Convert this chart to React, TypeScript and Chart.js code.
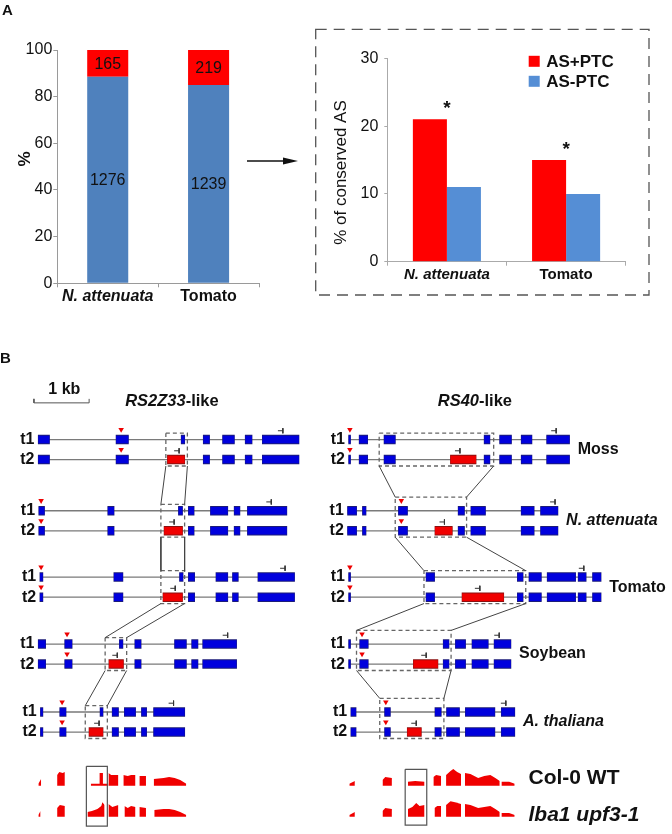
import React, { useEffect, useRef } from 'react';
import { Chart, registerables } from 'chart.js';

Chart.register(...registerables);

const FONT = "'Liberation Sans', Arial, Helvetica, sans-serif";
Chart.defaults.font.family = FONT;

// ---------------- Panel A data ----------------
const speciesA = ['N. attenuata', 'Tomato'];
const asMinusPercent = [88.5, 85.0];
const asPlusPercent = [11.5, 15.0];
const asMinusCount = [1276, 1239];
const asPlusCount = [165, 219];
const conservedPlus = [21, 15];
const conservedMinus = [11, 10];
const conservedStars = ['*', '*'];
const legendLabels = ['AS+PTC', 'AS-PTC'];

// ---------------- Panel B data (kb) ----------------
const speciesB = ['Moss', 'N. attenuata', 'Tomato', 'Soybean', 'A. thaliana'];
const speciesItalic = [false, true, false, false, true];
const rowT1 = [0, 3.55, 6.86, 10.2, 13.59];

// RS2Z33-like (t1 exons, PTC exon of t2, PTC triangle, stop codons, conserved box)
const rs2z33Exons = [
  [[0.08, 0.28], [1.49, 1.71], [2.67, 2.73], [3.07, 3.18], [3.42, 3.63], [3.83, 3.95], [4.14, 4.80]],
  [[0.09, 0.19], [1.34, 1.45], [2.62, 2.69], [2.80, 2.90], [3.20, 3.51], [3.63, 3.73], [3.87, 4.58]],
  [[0.11, 0.16], [1.45, 1.61], [2.64, 2.70], [2.80, 2.91], [3.30, 3.51], [3.60, 3.70], [4.06, 4.72]],
  [[0.08, 0.21], [0.56, 0.69], [1.55, 1.61], [1.83, 1.94], [2.55, 2.76], [2.86, 2.97], [3.06, 3.67]],
  [[0.12, 0.16], [0.47, 0.58], [1.20, 1.25], [1.42, 1.53], [1.64, 1.84], [1.95, 2.04], [2.17, 2.73]],
];
const rs2z33Ptc = [[2.42, 2.73], [2.36, 2.69], [2.34, 2.69], [1.36, 1.62], [1.00, 1.25]];
const rs2z33Tri = [1.58, 0.13, 0.13, 0.60, 0.51];
const rs2z33StopT1 = [4.51, 4.30, 4.55, 3.51, 2.53];
const rs2z33StopT2 = [2.63, 2.54, 2.56, 1.51, 1.18];
const rs2z33Box = [[2.39, 2.78], [2.30, 2.73], [2.30, 2.73], [1.29, 1.68], [0.93, 1.33]];

// RS40-like
const rs40Exons = [
  [[0.00, 0.03], [0.19, 0.34], [0.64, 0.84], [2.45, 2.55], [2.73, 2.94], [3.12, 3.31], [3.58, 3.99]],
  [[-0.02, 0.14], [0.25, 0.31], [0.90, 1.06], [1.98, 2.09], [2.21, 2.47], [3.12, 3.35], [3.47, 3.78]],
  [[0.00, 0.03], [1.40, 1.55], [3.05, 3.15], [3.26, 3.48], [3.59, 4.10], [4.15, 4.29], [4.41, 4.56]],
  [[0.00, 0.03], [0.20, 0.35], [1.71, 1.81], [1.93, 2.11], [2.23, 2.52], [2.63, 2.93]],
  [[0.04, 0.13], [0.65, 0.75], [1.56, 1.67], [1.77, 2.00], [2.11, 2.64], [2.76, 3.00]],
];
const rs40Ptc = [[1.84, 2.30], [1.56, 1.87], [2.05, 2.80], [1.17, 1.61], [1.06, 1.31]];
const rs40Tri = [0.02, 0.95, 0.02, 0.24, 0.67];
const rs40StopT1 = [3.75, 3.73, 4.25, 2.72, 2.84];
const rs40StopT2 = [2.01, 1.73, 2.37, 1.40, 1.22];
const rs40Box = [[0.55, 2.62], [0.84, 2.13], [1.36, 3.20], [0.14, 1.85], [0.56, 1.72]];

// RNA-seq coverage (A. thaliana), blocks of [kb, depth]
const covLeftWT = [
  [[0.08, 2], [0.13, 7]],
  [[0.42, 11], [0.46, 14], [0.52, 13], [0.56, 14]],
  [[1.03, 2], [1.19, 2], [1.19, 13], [1.25, 13], [1.25, 2], [1.35, 2]],
  [[1.35, 13], [1.40, 11], [1.53, 11]],
  [[1.62, 11], [1.70, 10], [1.76, 11], [1.84, 11]],
  [[1.91, 10], [2.03, 10]],
  [[2.17, 7], [2.35, 8], [2.45, 9], [2.55, 8], [2.65, 6], [2.76, 2]],
];
const covLeftMut = [
  [[0.08, 2], [0.12, 6]],
  [[0.42, 9], [0.47, 12], [0.56, 11]],
  [[0.97, 5], [1.05, 6], [1.15, 8], [1.22, 11], [1.24, 15], [1.28, 12]],
  [[1.35, 13], [1.42, 10], [1.53, 12]],
  [[1.64, 11], [1.70, 9], [1.76, 11], [1.84, 10]],
  [[1.91, 10], [2.03, 9]],
  [[2.18, 7], [2.35, 8], [2.45, 8], [2.55, 7], [2.65, 5], [2.76, 2]],
];
const covRightWT = [
  [[0.01, 2], [0.11, 5]],
  [[0.61, 6], [0.66, 9], [0.78, 8]],
  [[1.07, 4], [1.20, 5], [1.37, 4]],
  [[1.53, 9], [1.58, 11], [1.67, 10]],
  [[1.76, 11], [1.84, 15], [1.89, 17], [1.96, 14], [2.03, 12]],
  [[2.10, 13], [2.20, 12], [2.34, 8], [2.45, 10], [2.56, 11], [2.65, 8], [2.73, 5]],
  [[2.76, 4], [2.90, 4], [3.00, 2]],
];
const covRightMut = [
  [[0.01, 2], [0.11, 5]],
  [[0.61, 6], [0.66, 9], [0.78, 8]],
  [[1.07, 8], [1.15, 10], [1.22, 14], [1.28, 11], [1.37, 12]],
  [[1.55, 9], [1.60, 11], [1.67, 11]],
  [[1.76, 12], [1.84, 16], [1.92, 15], [2.03, 13]],
  [[2.10, 13], [2.20, 12], [2.34, 9], [2.45, 10], [2.56, 11], [2.65, 8], [2.73, 5]],
  [[2.76, 4], [2.90, 4], [3.00, 2]],
];
const covLeftFrame = [0.95, 16.3, 1.33, 19.28];
const covRightFrame = [1.02, 16.45, 1.41, 19.23];
const trackLabels = [['Col-0 WT', false], ['lba1 upf3-1', true]];
const trackY = [17.27, 18.82];

// layout constants
const ROW_PX = 20.4;
const COV_UNIT = 1 / ROW_PX;
const Y_MIN = -3.27;
const Y_MAX = Y_MIN + 464 / ROW_PX;
const KB_PX = 56.6;

const BLUE_A = '#4F81BD';
const BLUE_B = '#558ED5';
const RED = '#FF0000';

// ---------------- helpers ----------------
function poly(list: number[][]) {
  const out: any[] = [];
  list.forEach((p, i) => {
    if (i > 0) out.push({ x: p[0], y: null });
    for (let k = 0; k < p.length; k += 2) out.push({ x: p[k], y: p[k + 1] });
  });
  return out;
}

function lineDs(data: any[], color: string, width: number, order: number, extra: any = {}) {
  return {
    type: 'line',
    data,
    borderColor: color,
    borderWidth: width,
    pointRadius: 0,
    tension: 0,
    fill: false,
    spanGaps: false,
    borderCapStyle: 'butt',
    order,
    ...extra,
  };
}

function drawRich(ctx: any, parts: any[], x: number, y: number, align: string, size: number) {
  const fonts = parts.map((p: any) => `${p[1] ? 'italic ' : ''}bold ${size}px ${FONT}`);
  const widths = parts.map((p: any, i: number) => {
    ctx.font = fonts[i];
    return ctx.measureText(p[0]).width;
  });
  const total = widths.reduce((a: number, b: number) => a + b, 0);
  let cx = align === 'left' ? x : align === 'right' ? x - total : x - total / 2;
  ctx.textAlign = 'left';
  ctx.textBaseline = 'middle';
  parts.forEach((p: any, i: number) => {
    ctx.font = fonts[i];
    ctx.fillText(p[0], cx, y);
    cx += widths[i];
  });
}

const yTitlePlugin = {
  id: 'yTitleCustom',
  afterDraw(chart: any) {
    const o = chart.config.options.customTitle;
    if (!o) return;
    const ctx = chart.ctx;
    ctx.save();
    ctx.translate(o.x, o.y);
    ctx.rotate(-Math.PI / 2);
    ctx.font = `${o.weight} ${o.size}px ${FONT}`;
    ctx.fillStyle = '#111';
    ctx.textAlign = 'center';
    ctx.textBaseline = 'middle';
    ctx.fillText(o.text, 0, 0);
    ctx.restore();
  },
};

// ---------------- Chart 1: stacked ----------------
function makeStacked(canvas: HTMLCanvasElement) {
  const counts = [asMinusCount, asPlusCount];
  const labelPlugin = {
    id: 'stackLabels',
    afterDatasetsDraw(chart: any) {
      const ctx = chart.ctx;
      ctx.save();
      ctx.font = `16px ${FONT}`;
      ctx.fillStyle = '#111';
      ctx.textAlign = 'center';
      ctx.textBaseline = 'middle';
      chart.data.datasets.forEach((_d: any, di: number) => {
        chart.getDatasetMeta(di).data.forEach((el: any, i: number) => {
          const p = el.getProps(['x', 'y', 'base'], true);
          ctx.fillText(String(counts[di][i]), p.x, (p.y + p.base) / 2 + 1);
        });
      });
      ctx.restore();
    },
  };
  return new Chart(canvas, {
    type: 'bar',
    data: {
      labels: speciesA,
      datasets: [
        { label: 'AS-PTC', data: asMinusPercent, backgroundColor: BLUE_A, borderWidth: 0 },
        { label: 'AS+PTC', data: asPlusPercent, backgroundColor: RED, borderWidth: 0 },
      ],
    },
    options: {
      responsive: false,
      animation: false,
      events: [],
      layout: { padding: { top: 50, right: 6, left: 0, bottom: 0 } },
      categoryPercentage: 1,
      barPercentage: 0.407,
      customTitle: { text: '%', x: 25, y: 159, size: 17, weight: 'bold' },
      plugins: { legend: { display: false }, tooltip: { enabled: false } },
      scales: {
        x: {
          stacked: true,
          grid: { drawOnChartArea: false, drawTicks: true, tickLength: 4, color: '#9a9a9a', offset: true },
          border: { display: true, color: '#9a9a9a' },
          ticks: {
            color: '#111',
            padding: 0,
            font: (c: any) => ({ size: 16, weight: 'bold', style: c.index === 0 ? 'italic' : 'normal', family: FONT }),
          },
          afterFit: (s: any) => { s.height = 26.7; },
        },
        y: {
          stacked: true,
          min: 0,
          max: 100,
          grid: { drawOnChartArea: false, drawTicks: true, tickLength: 4, color: '#9a9a9a' },
          border: { display: true, color: '#9a9a9a' },
          ticks: { stepSize: 20, color: '#111', padding: 1, font: { size: 16, family: FONT } },
          afterFit: (s: any) => { s.width = 57.3; },
        },
      },
    } as any,
    plugins: [labelPlugin, yTitlePlugin],
  } as any);
}

// ---------------- Chart 2: grouped ----------------
function makeConserved(canvas: HTMLCanvasElement) {
  const extras = {
    id: 'starsLegend',
    afterDatasetsDraw(chart: any) {
      const ctx = chart.ctx;
      const xs = chart.scales.x;
      ctx.save();
      ctx.fillStyle = '#111';
      ctx.font = `bold 19px ${FONT}`;
      ctx.textAlign = 'center';
      ctx.textBaseline = 'alphabetic';
      chart.getDatasetMeta(0).data.forEach((el: any, i: number) => {
        const p = el.getProps(['y'], true);
        ctx.fillText(conservedStars[i], xs.getPixelForValue(i), p.y - 5);
      });
      // legend
      const ca = chart.chartArea;
      const x0 = ca.right - 97;
      chart.data.datasets.forEach((ds: any, i: number) => {
        const yc = ca.top + 3 + i * 20;
        ctx.fillStyle = ds.backgroundColor;
        ctx.fillRect(x0, yc - 5.5, 11, 11);
        ctx.fillStyle = '#111';
        ctx.font = `bold 17px ${FONT}`;
        ctx.textAlign = 'left';
        ctx.textBaseline = 'middle';
        ctx.fillText(ds.label, x0 + 17.5, yc + 1);
      });
      ctx.restore();
    },
  };
  return new Chart(canvas, {
    type: 'bar',
    data: {
      labels: speciesA,
      datasets: [
        { label: legendLabels[0], data: conservedPlus, backgroundColor: RED, borderWidth: 0 },
        { label: legendLabels[1], data: conservedMinus, backgroundColor: BLUE_B, borderWidth: 0 },
      ],
    },
    options: {
      responsive: false,
      animation: false,
      events: [],
      layout: { padding: { top: 28.3, right: 16.3, left: 0, bottom: 0 } },
      categoryPercentage: 0.571,
      barPercentage: 1,
      customTitle: { text: '% of conserved AS', x: 21.7, y: 142.5, size: 17, weight: 'normal' },
      plugins: { legend: { display: false }, tooltip: { enabled: false } },
      scales: {
        x: {
          grid: { drawOnChartArea: false, drawTicks: true, tickLength: 4, color: '#aaaaaa', offset: true },
          border: { display: true, color: '#aaaaaa' },
          ticks: {
            color: '#111',
            padding: 0,
            font: (c: any) => ({ size: 15, weight: 'bold', style: c.index === 0 ? 'italic' : 'normal', family: FONT }),
          },
          afterFit: (s: any) => { s.height = 30.3; },
        },
        y: {
          min: 0,
          max: 30,
          grid: { drawOnChartArea: false, drawTicks: true, tickLength: 3, color: '#aaaaaa' },
          border: { display: true, color: '#aaaaaa' },
          ticks: { stepSize: 10, color: '#111', padding: 6, font: { size: 16, family: FONT } },
          afterFit: (s: any) => { s.width = 67.3; },
        },
      },
    } as any,
    plugins: [extras, yTitlePlugin],
  } as any);
}

// ---------------- Panel B gene charts ----------------
function makeGene(canvas: HTMLCanvasElement, col: any) {
  const introns: number[][] = [];
  const exOut: number[][] = [];
  const exBlue: number[][] = [];
  const redOut: number[][] = [];
  const exRed: number[][] = [];
  const tris: any[] = [];
  const stops: number[][] = [];
  const boxes: number[][] = [];
  const links: number[][] = [];
  const boxTop: number[] = [];
  const boxBot: number[] = [];
  const texts: any[] = [];
  const pad = 0.008;

  col.exons.forEach((ex: number[][], s: number) => {
    const y1 = rowT1[s];
    const y2 = rowT1[s] + 1;
    const red = col.ptc[s];
    const t2 = ex.filter(([a, b]) => b <= red[0] || a >= red[1]);
    const st = Math.min(...ex.map((e) => e[0]));
    const en = Math.max(...ex.map((e) => e[1]));
    introns.push([st, y1, en, y1], [Math.min(st, red[0]), y2, Math.max(en, red[1]), y2]);
    ex.forEach(([a, b]) => { exBlue.push([a, y1, b, y1]); exOut.push([a - pad, y1, b + pad, y1]); });
    t2.forEach(([a, b]) => { exBlue.push([a, y2, b, y2]); exOut.push([a - pad, y2, b + pad, y2]); });
    exRed.push([red[0], y2, red[1], y2]);
    redOut.push([red[0] - pad, y2, red[1] + pad, y2]);
    tris.push({ x: col.tri[s], y: y1 - 0.5 }, { x: col.tri[s], y: y2 - 0.5 });
    [[col.stopT1[s], y1], [col.stopT2[s], y2]].forEach(([sx, ry]) => {
      stops.push([sx - 0.09, ry - 0.44, sx, ry - 0.44], [sx, ry - 0.57, sx, ry - 0.31]);
    });
    const [bx1, bx2] = col.box[s];
    const inside = col.tri[s] >= bx1 && col.tri[s] <= bx2;
    const top = y1 - (inside ? 0.68 : 0.32);
    const bot = y2 + 0.32;
    boxTop.push(top);
    boxBot.push(bot);
    boxes.push([bx1, top, bx2, top, bx2, bot, bx1, bot, bx1, top]);
    texts.push({ parts: [['t1', false]], x: st - 0.07, y: y1, align: 'right', size: 16 });
    texts.push({ parts: [['t2', false]], x: Math.min(st, red[0]) - 0.07, y: y2, align: 'right', size: 16 });
    if (col.species) {
      texts.push({ parts: [[speciesB[s], speciesItalic[s]]], x: Math.max(en, red[1]) + 0.15, y: (y1 + y2) / 2, align: 'left', size: 16 });
    }
  });
  for (let s = 0; s < col.box.length - 1; s++) {
    links.push([col.box[s][0], boxBot[s], col.box[s + 1][0], boxTop[s + 1]]);
    links.push([col.box[s][1], boxBot[s], col.box[s + 1][1], boxTop[s + 1]]);
  }
  texts.push({ parts: col.title, x: col.titleX, y: -1.9, align: 'center', size: 16.5 });
  if (col.species) {
    trackLabels.forEach((t: any, i: number) => {
      texts.push({ parts: [[t[0], t[1]]], x: 3.25, y: trackY[i] - 0.4 + (i === 1 ? 0.3 : 0), align: 'left', size: 21 });
    });
  }

  const datasets: any[] = [];
  datasets.push(lineDs(poly(introns), '#7a7a7a', 1.3, 30));
  datasets.push(lineDs(poly(exOut), '#1c1c78', 9.5, 29));
  datasets.push(lineDs(poly(exBlue), '#0000DD', 7.5, 28));
  datasets.push(lineDs(poly(redOut), '#8a1010', 9.5, 27));
  datasets.push(lineDs(poly(exRed), '#F00000', 7.5, 26));
  datasets.push(lineDs(poly(stops), '#333', 1, 25));
  datasets.push(lineDs(poly(boxes), '#666', 1.3, 24, { borderDash: [4, 3] }));
  datasets.push(lineDs(poly(links), '#444', 1, 23));
  datasets.push({
    type: 'line', data: tris, showLine: false, pointStyle: 'triangle', rotation: 180,
    pointRadius: 3.2, pointBackgroundColor: '#EE0000', pointBorderWidth: 0, order: 22,
  });
  if (col.scaleBar) {
    datasets.push(lineDs(poly([[0, -2.03, 0, -1.83, 1, -1.83, 1, -2.03]]), '#555', 1, 21));
    texts.push({ parts: [['1 kb', false]], x: 0.55, y: -2.49, align: 'center', size: 16 });
  }
  [[col.cov.wt, trackY[0]], [col.cov.mut, trackY[1]]].forEach(([blocks, base]: any) => {
    blocks.forEach((b: number[][]) => {
      datasets.push({
        type: 'line',
        data: b.map(([x, d]) => ({ x, y: base - d * COV_UNIT })),
        borderWidth: 0,
        borderColor: 'rgba(0,0,0,0)',
        backgroundColor: '#F00000',
        fill: { value: base },
        pointRadius: 0,
        tension: 0,
        order: 40,
      });
    });
  });
  const f = col.cov.frame;
  datasets.push(lineDs(poly([[f[0], f[1], f[2], f[1], f[2], f[3], f[0], f[3], f[0], f[1]]]), '#555', 1.2, 20));

  const textPlugin = {
    id: 'geneText',
    afterDatasetsDraw(chart: any) {
      const ctx = chart.ctx;
      const xs = chart.scales.x;
      const ys = chart.scales.y;
      ctx.save();
      ctx.fillStyle = '#111';
      texts.forEach((t) => drawRich(ctx, t.parts, xs.getPixelForValue(t.x), ys.getPixelForValue(t.y), t.align, t.size));
      ctx.restore();
    },
  };

  return new Chart(canvas, {
    type: 'line',
    data: { datasets },
    options: {
      responsive: false,
      animation: false,
      events: [],
      layout: { padding: 0 },
      plugins: { legend: { display: false }, tooltip: { enabled: false } },
      scales: {
        x: { type: 'linear', min: col.xMin, max: col.xMax, bounds: 'data', display: false },
        y: { type: 'linear', min: Y_MIN, max: Y_MAX, reverse: true, bounds: 'data', display: false },
      },
    } as any,
    plugins: [textPlugin],
  } as any);
}

const leftCol = {
  exons: rs2z33Exons, ptc: rs2z33Ptc, tri: rs2z33Tri, stopT1: rs2z33StopT1, stopT2: rs2z33StopT2, box: rs2z33Box,
  cov: { wt: covLeftWT, mut: covLeftMut, frame: covLeftFrame },
  xMin: -30.7 / KB_PX, xMax: -30.7 / KB_PX + 322 / KB_PX,
  title: [['RS2Z33', true], ['-like', false]], titleX: 2.5, scaleBar: true, species: false,
};
const rightCol = {
  exons: rs40Exons, ptc: rs40Ptc, tri: rs40Tri, stopT1: rs40StopT1, stopT2: rs40StopT2, box: rs40Box,
  cov: { wt: covRightWT, mut: covRightMut, frame: covRightFrame },
  xMin: -23.3 / KB_PX, xMax: -23.3 / KB_PX + 350 / KB_PX,
  title: [['RS40', true], ['-like', false]], titleX: 2.28, scaleBar: false, species: true,
};

export default function App() {
  const c1 = useRef<HTMLCanvasElement>(null);
  const c2 = useRef<HTMLCanvasElement>(null);
  const c3 = useRef<HTMLCanvasElement>(null);
  const c4 = useRef<HTMLCanvasElement>(null);
  useEffect(() => {
    const charts = [
      makeStacked(c1.current!),
      makeConserved(c2.current!),
      makeGene(c3.current!, leftCol),
      makeGene(c4.current!, rightCol),
    ];
    return () => charts.forEach((c) => c.destroy());
  }, []);
  const abs = (l: number, t: number): any => ({ position: 'absolute', left: l, top: t, display: 'block' });
  const letter: any = { position: 'absolute', font: `bold 15px ${FONT}`, lineHeight: '15px', color: '#111' };
  return (
    <div style={{ position: 'absolute', left: 0, top: 0, width: 672, height: 834, background: '#fff', overflow: 'hidden' }}>
      <svg width={672} height={300} style={{ position: 'absolute', left: 0, top: 0 }}>
        <rect x={315.7} y={29.3} width={333.3} height={265.7} fill="none" stroke="#555" strokeWidth={1.3} strokeDasharray="11 7" />
        <line x1={247} y1={161} x2={286} y2={161} stroke="#111" strokeWidth={1.3} />
        <polygon points="283,157.5 298,161 283,164.5" fill="#111" />
      </svg>
      <canvas ref={c1} width={265} height={310} style={abs(0, 0)} />
      <canvas ref={c2} width={322} height={262} style={abs(320, 30)} />
      <canvas ref={c3} width={322} height={464} style={abs(0, 370)} />
      <canvas ref={c4} width={350} height={464} style={abs(322, 370)} />
      <div style={{ ...letter, left: 2, top: 2 }}>A</div>
      <div style={{ ...letter, left: 0, top: 350 }}>B</div>
    </div>
  );
}
